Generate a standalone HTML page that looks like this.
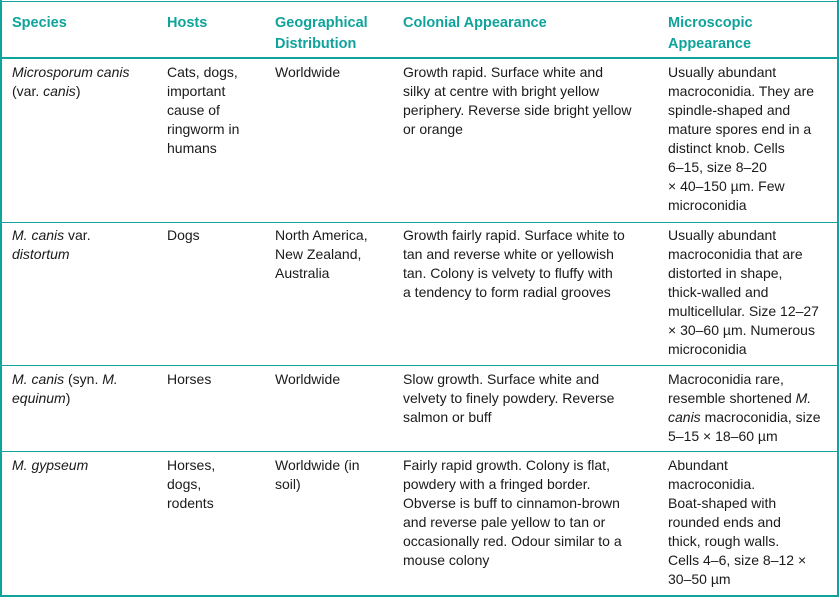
<!DOCTYPE html>
<html><head><meta charset="utf-8"><style>
body{margin:0;background:#fff;width:839px;height:597px;position:relative;overflow:hidden;font-family:"Liberation Sans",sans-serif;font-size:14px;color:#1a1a1a}
.l{position:absolute;background:#0fa39b}
.c{position:absolute;line-height:19px;white-space:nowrap}
.h{position:absolute;line-height:21px;white-space:nowrap;color:#0fa39b;font-weight:bold;font-size:14.5px}
</style></head><body>
<div class="l" style="left:0;top:1px;width:839px;height:1px"></div>
<div class="l" style="left:0;top:0;width:2px;height:597px"></div>
<div class="l" style="left:837px;top:0;width:2px;height:597px"></div>
<div class="l" style="left:0;top:595px;width:839px;height:2px"></div>
<div class="l" style="left:0;top:57px;width:839px;height:2px"></div>
<div class="l" style="left:0;top:222px;width:839px;height:1px"></div>
<div class="l" style="left:0;top:365px;width:839px;height:1px"></div>
<div class="l" style="left:0;top:451px;width:839px;height:1px"></div>

<div class="h" style="left:12px;top:13px">Species</div>
<div class="h" style="left:167px;top:13px">Hosts</div>
<div class="h" style="left:275px;top:13px">Geographical<br>Distribution</div>
<div class="h" style="left:403px;top:13px">Colonial Appearance</div>
<div class="h" style="left:668px;top:13px">Microscopic<br>Appearance</div>

<div class="c" style="left:12px;top:63px"><i>Microsporum canis</i><br>(var. <i>canis</i>)</div>
<div class="c" style="left:167px;top:63px">Cats, dogs,<br>important<br>cause of<br>ringworm in<br>humans</div>
<div class="c" style="left:275px;top:63px">Worldwide</div>
<div class="c" style="left:403px;top:63px">Growth rapid. Surface white and<br>silky at centre with bright yellow<br>periphery. Reverse side bright yellow<br>or orange</div>
<div class="c" style="left:668px;top:63px">Usually abundant<br>macroconidia. They are<br>spindle-shaped and<br>mature spores end in a<br>distinct knob. Cells<br>6–15, size 8–20<br>× 40–150 µm. Few<br>microconidia</div>

<div class="c" style="left:12px;top:226px"><i>M. canis</i> var.<br><i>distortum</i></div>
<div class="c" style="left:167px;top:226px">Dogs</div>
<div class="c" style="left:275px;top:226px">North America,<br>New Zealand,<br>Australia</div>
<div class="c" style="left:403px;top:226px">Growth fairly rapid. Surface white to<br>tan and reverse white or yellowish<br>tan. Colony is velvety to fluffy with<br>a tendency to form radial grooves</div>
<div class="c" style="left:668px;top:226px">Usually abundant<br>macroconidia that are<br>distorted in shape,<br>thick-walled and<br>multicellular. Size 12–27<br>× 30–60 µm. Numerous<br>microconidia</div>

<div class="c" style="left:12px;top:370px"><i>M. canis</i> (syn. <i>M.</i><br><i>equinum</i>)</div>
<div class="c" style="left:167px;top:370px">Horses</div>
<div class="c" style="left:275px;top:370px">Worldwide</div>
<div class="c" style="left:403px;top:370px">Slow growth. Surface white and<br>velvety to finely powdery. Reverse<br>salmon or buff</div>
<div class="c" style="left:668px;top:370px">Macroconidia rare,<br>resemble shortened <i>M.</i><br><i>canis</i> macroconidia, size<br>5–15 × 18–60 µm</div>

<div class="c" style="left:12px;top:456px"><i>M. gypseum</i></div>
<div class="c" style="left:167px;top:456px">Horses,<br>dogs,<br>rodents</div>
<div class="c" style="left:275px;top:456px">Worldwide (in<br>soil)</div>
<div class="c" style="left:403px;top:456px">Fairly rapid growth. Colony is flat,<br>powdery with a fringed border.<br>Obverse is buff to cinnamon-brown<br>and reverse pale yellow to tan or<br>occasionally red. Odour similar to a<br>mouse colony</div>
<div class="c" style="left:668px;top:456px">Abundant<br>macroconidia.<br>Boat-shaped with<br>rounded ends and<br>thick, rough walls.<br>Cells 4–6, size 8–12 ×<br>30–50 µm</div>
</body></html>
